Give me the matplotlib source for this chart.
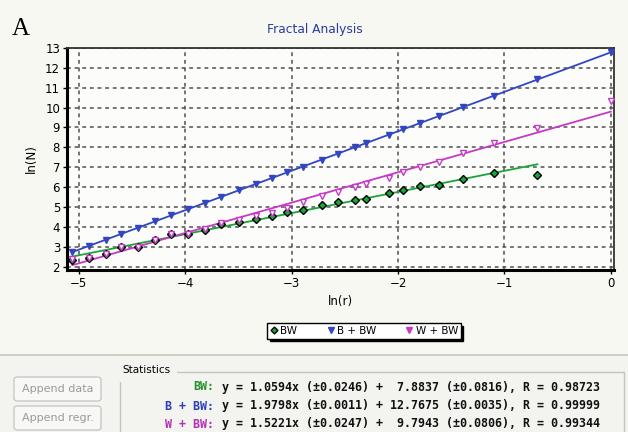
import numpy as np
import matplotlib
matplotlib.use("Agg")
from matplotlib import pyplot as plt
from matplotlib.patches import Rectangle, FancyBboxPatch
from matplotlib.lines import Line2D

## data
log_r = [-5.06, -4.90, -4.74, -4.60, -4.44, -4.28, -4.13, -3.97, -3.81, -3.66,
         -3.49, -3.33, -3.18, -3.04, -2.89, -2.71, -2.56, -2.40, -2.30, -2.08,
         -1.95, -1.79, -1.61, -1.39, -1.10, -0.69, 0.0]
bw = [2.37, 2.45, 2.65, 3.00, 3.00, 3.37, 3.66, 3.65, 3.85, 4.15,
      4.27, 4.40, 4.55, 4.78, 4.87, 5.10, 5.25, 5.37, 5.40, 5.70,
      5.87, 6.05, 6.13, 6.42, 6.70, 6.60]
b_bw = [2.75, 3.05, 3.37, 3.66, 3.97, 4.29, 4.60, 4.90, 5.21, 5.52,
        5.86, 6.18, 6.47, 6.75, 7.03, 7.38, 7.68, 8.01, 8.21, 8.64,
        8.91, 9.21, 9.55, 10.01, 10.58, 11.41, 12.80]
w_bw = [2.40, 2.45, 2.65, 3.02, 3.00, 3.37, 3.68, 3.66, 3.90, 4.20,
        4.35, 4.55, 4.72, 4.95, 5.25, 5.58, 5.78, 6.03, 6.17, 6.45,
        6.75, 7.00, 7.25, 7.73, 8.20, 8.98, 10.33]

names = ['BW', 'B + BW', 'W + BW']
slope = [1.0594, 1.9798, 1.5221]
slope_err = [0.0246, 0.0011, 0.0247]
intercept = [7.8837, 12.7675, 9.7943]
intercept_err = [0.0816, 0.0035, 0.0806]
r_val = [0.98723, 0.99999, 0.99344]

x_ticks = [-5, -4, -3, -2, -1, 0]
y_ticks = list(range(2, 14))

## styles
line_cols = ['#1aa53a', '#3346c2', '#c43ac4']
text_cols = ['#23932f', '#2f3fb8', '#b530b5']
bg = '#f8f8f3'

fig = plt.figure(figsize=(6.28, 4.32), dpi=100, facecolor=bg)
W, H = 628, 432


def fx(px):
    return px / W


def fy(py):
    return 1 - py / H


ax = fig.add_axes([fx(67), fy(270), fx(614) - fx(67), fy(47.7) - fy(270)])
ax.set_facecolor('#fcfcfa')

xs = [np.array(log_r[:len(bw)]), np.array(log_r), np.array(log_r)]
ys = [bw, b_bw, w_bw]
mk = ['D', 'v', 'v']
mfc = [line_cols[0], line_cols[1], 'white']
mec = ['black', line_cols[1], line_cols[2]]
ms = [4.3, 5, 5]
for i in range(3):
    xl = np.array([xs[i][0], xs[i][-1]])
    ax.plot(xl, slope[i] * xl + intercept[i], color=line_cols[i], lw=1.3,
            zorder=3)
for i in [1, 0, 2]:
    ax.plot(xs[i], ys[i], linestyle='none', marker=mk[i], ms=ms[i],
            mfc=mfc[i], mec=mec[i], mew=1.0, zorder=4)

ax.set_xlim(-5.11, 0.03)
ax.set_ylim(1.85, 13)
ax.set_xticks(x_ticks)
ax.set_yticks(y_ticks)
ax.grid(True, color='#505050', linestyle=(0, (2.5, 2.5)), lw=1.1)
ax.tick_params(labelsize=8.5, length=3, width=1, pad=2)
for s in ['left', 'bottom']:
    ax.spines[s].set_linewidth(2.2)
for s in ['top', 'right']:
    ax.spines[s].set_linewidth(1.3)
    ax.spines[s].set_color('#333333')
ax.set_xlabel('ln(r)', fontsize=8.5, labelpad=4)
ax.set_ylabel('ln(N)', fontsize=8.5, labelpad=5)

fig.text(fx(315), fy(30), 'Fractal Analysis', color='#2b3aa0', fontsize=8.8,
         ha='center', va='center')
fig.text(fx(12), fy(29), 'A', family='Liberation Serif', fontsize=18,
         ha='left', va='center')

## legend
handles = [Line2D([], [], linestyle='none', marker='D', ms=3.5,
                  mfc=line_cols[0], mec='black'),
           Line2D([], [], linestyle='none', marker='v', ms=4.5,
                  mfc=line_cols[1], mec=line_cols[1]),
           Line2D([], [], linestyle='none', marker='v', ms=4.5,
                  mfc=line_cols[2], mec=line_cols[2])]
leg = fig.legend(handles, names, loc='center', bbox_to_anchor=(fx(364), fy(331)),
                 ncol=3, fontsize=7.5, frameon=True, fancybox=False,
                 shadow={'color': 'black', 'alpha': 1}, edgecolor='black',
                 borderpad=0.25, handletextpad=0.2, columnspacing=2.8,
                 handlelength=0.8, borderaxespad=0)
leg.get_frame().set_linewidth(1)

## bottom panel
fig.add_artist(Rectangle((0, 0), 1, fy(355), transform=fig.transFigure,
                         facecolor='#f3f3ef', edgecolor='none', zorder=0))
fig.add_artist(Line2D([0, 1], [fy(355), fy(355)], transform=fig.transFigure,
                      color='#c9c9c0', lw=1.2))
for label, top in [('Append data', 377), ('Append regr.', 406)]:
    fig.add_artist(FancyBboxPatch((fx(14), fy(top + 24)), fx(87), 24 / H,
                                  boxstyle='round,pad=0,rounding_size=0.006',
                                  transform=fig.transFigure,
                                  facecolor='#f8f8f6', edgecolor='#c8c8c8',
                                  lw=1))
    fig.text(fx(57.5), fy(top + 12), label, color='#9a9a9a', fontsize=8,
             ha='center', va='center')

fig.add_artist(Rectangle((fx(120), fy(440)), fx(504), 68 / H,
                         transform=fig.transFigure, facecolor='none',
                         edgecolor='#c2c2c2', lw=1))
fig.text(fx(122), fy(370), 'Statistics', fontsize=7.5, ha='left', va='center',
         backgroundcolor='#f3f3ef')

rows_y = [387, 406, 424]
for i in range(3):
    eq = (f'y = {slope[i]:.4f}x (\u00b1{slope_err[i]:.4f}) + '
          f'{intercept[i]:7.4f} (\u00b1{intercept_err[i]:.4f}), '
          f'R = {r_val[i]:.5f}')
    fig.text(fx(214), fy(rows_y[i]), names[i] + ':', color=text_cols[i],
             family='DejaVu Sans Mono', weight='bold', fontsize=8.4,
             ha='right', va='center')
    fig.text(fx(222), fy(rows_y[i]), eq, color='#111111',
             family='DejaVu Sans Mono', weight='bold', fontsize=8.4,
             ha='left', va='center')

fig.savefig('out.png', dpi=100, facecolor=bg)
